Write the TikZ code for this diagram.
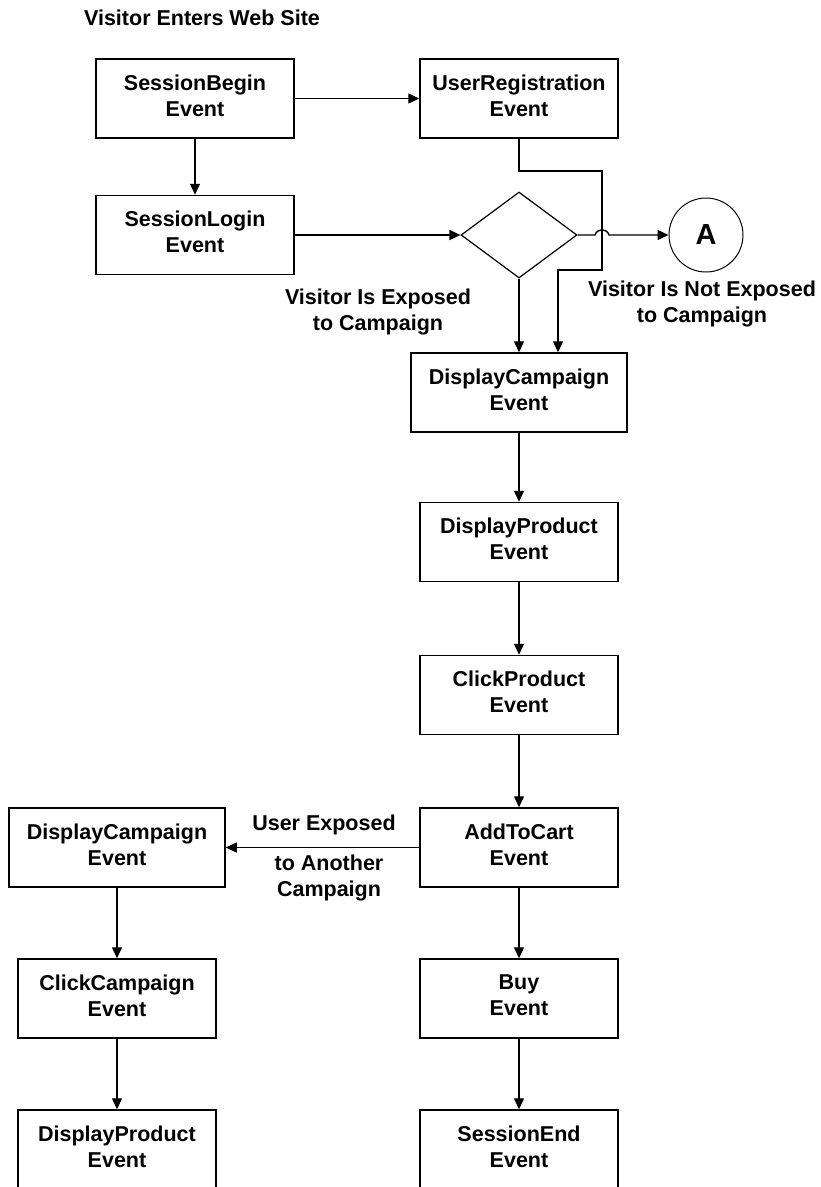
\documentclass[tikz,border=0pt]{standalone}
\usepackage{fontspec}
\setmainfont{Liberation Sans}
\usetikzlibrary{shapes.geometric,arrows.meta}

\begin{document}
\begin{tikzpicture}[x=1pt,y=-1pt,
  txt/.style={font=\bfseries\fontsize{21.5}{26}\selectfont, inner sep=0pt, align=center},
  evbox/.style={txt, draw, line width=1.5pt, minimum width=198pt, minimum height=79pt, text depth=6pt},
  wide/.style={minimum width=216pt},
  decide/.style={draw, diamond, line width=1.2pt, minimum width=116pt, minimum height=86pt, inner sep=0pt},
  conn/.style={draw, circle, line width=1pt, minimum size=74pt, inner sep=0pt, font=\bfseries\fontsize{29}{34}\selectfont},
  flow/.style={line width=1.4pt, -{Triangle[length=11pt,width=10pt]}},
]
\useasboundingbox (0,0) rectangle (820,1187);
\clip (0,0) rectangle (820,1187);

% heading
\node[txt] (title) at (202,18) {Visitor Enters Web Site};

% main flow boxes
\node[evbox] (sb) at (195,98.5) {SessionBegin\\Event};
\node[evbox] (ur) at (519,98.5) {UserRegistration\\Event};
\node[evbox] (sl) at (195,235) {SessionLogin\\Event};
\node[decide] (dia) at (519,235) {};
\node[conn] (ca) at (706,235) {A};
\node[evbox, wide] (dc) at (519,392.5) {DisplayCampaign\\Event};
\node[evbox] (dp) at (519,542) {DisplayProduct\\Event};
\node[evbox] (cp) at (519,695) {ClickProduct\\Event};
\node[evbox] (ac) at (519,847.5) {AddToCart\\Event};
\node[evbox] (buy) at (519,998.5) {Buy\\Event};
\node[evbox] (se) at (519,1149.5) {SessionEnd\\Event};

% side flow boxes
\node[evbox, wide] (dc2) at (117,847.5) {DisplayCampaign\\Event};
\node[evbox] (cc) at (117,998.5) {ClickCampaign\\Event};
\node[evbox] (dp2) at (117,1149.5) {DisplayProduct\\Event};

% labels
\node[txt] (lexp) at (378,312) {Visitor Is Exposed\\to Campaign};
\node[txt] (lnot) at (702,304) {Visitor Is Not Exposed\\to Campaign};
\node[txt] (lusr) at (324,825) {User Exposed};
\node[txt] (lano) at (329,878) {to Another\\Campaign};

% routing points for the registration connector
\coordinate (cross) at (602,235);
\coordinate (r1) at (602,171);
\coordinate (r2) at (602,270);
\coordinate (r3) at (558,270);

% connectors
\draw[flow] (sb) -- (ur);
\draw[flow] (sb) -- (sl);
\draw[flow] (sl) -- (dia);
\draw[flow] (ur.south) |- (r1) -- (r2) -| (dc.north -| r3);
\draw[flow] (dia.east) -- ([xshift=-7pt]cross)
  .. controls ([xshift=-5pt,yshift=7pt]cross) and ([xshift=5pt,yshift=7pt]cross) .. ([xshift=7pt]cross)
  -- (ca.west);
\draw[flow] (dia.south) -- (dia.south |- dc.north);
\draw[flow] (dc) -- (dp);
\draw[flow] (dp) -- (cp);
\draw[flow] (cp) -- (ac);
\draw[flow] (ac) -- (buy);
\draw[flow] (buy) -- (se);
\draw[flow] (ac) -- (dc2);
\draw[flow] (dc2) -- (cc);
\draw[flow] (cc) -- (dp2);
\end{tikzpicture}
\end{document}
